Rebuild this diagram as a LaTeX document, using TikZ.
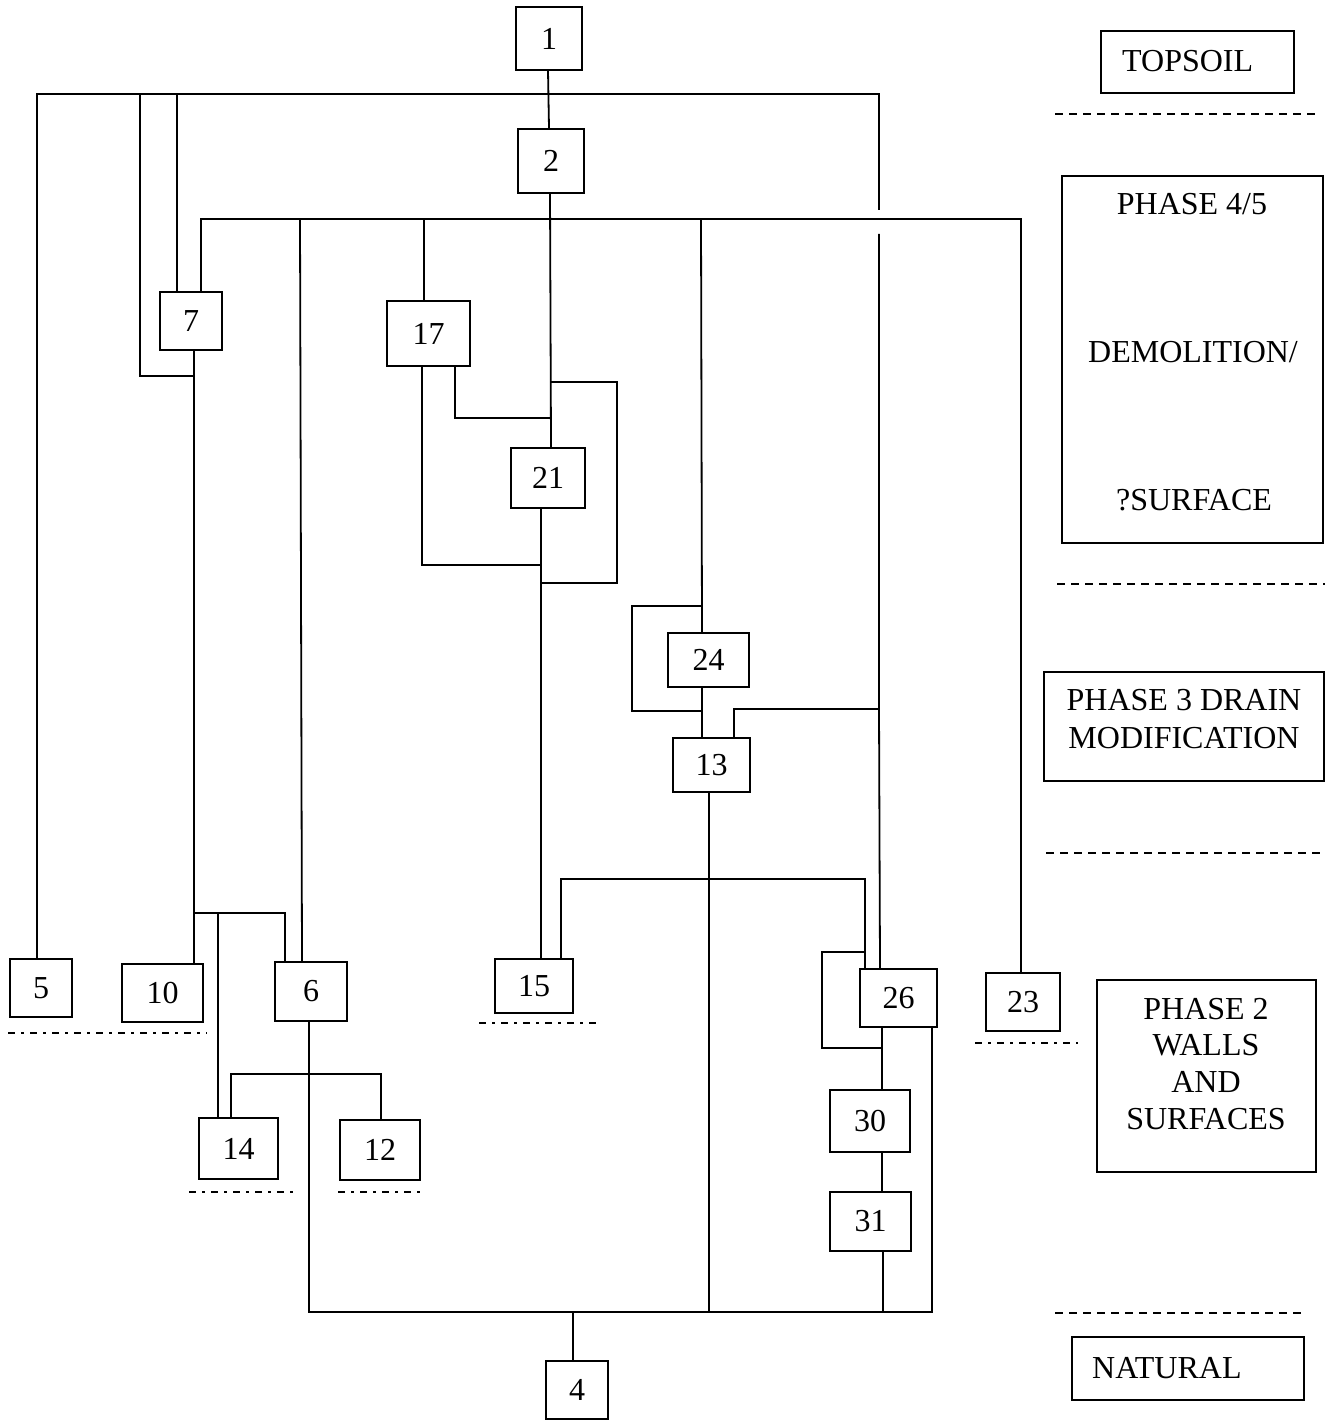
\documentclass[tikz,border=0pt]{standalone}
\usepackage{fontspec}
\setmainfont{Liberation Serif}
\begin{document}
\begin{tikzpicture}[x=1pt,y=-1pt,
  font=\fontsize{32}{38}\selectfont,
  numbox/.style={draw,line width=1.8pt,inner sep=0pt,rectangle},
  labelbox/.style={draw,line width=1.8pt,inner sep=0pt,rectangle},
  conn/.style={line width=1.8pt},
  dashsep/.style={line width=1.5pt,dash pattern=on 8pt off 6pt},
  dashdotsep/.style={line width=1.6pt,dash pattern=on 7pt off 6pt on 3pt off 6pt},
  txt/.style={anchor=base,inner sep=0pt}]
\useasboundingbox (0,0) rectangle (1325,1420);

% numbered boxes
\node[numbox,minimum width=66pt,minimum height=63pt] (n1) at (549,38.5) {1};
\node[numbox,minimum width=66pt,minimum height=64pt] (n2) at (551,161) {2};
\node[numbox,minimum width=62pt,minimum height=58pt] (n7) at (191,321) {7};
\node[numbox,minimum width=83pt,minimum height=65pt] (n17) at (428.5,333.5) {17};
\node[numbox,minimum width=74pt,minimum height=60pt] (n21) at (548,478) {21};
\node[numbox,minimum width=81pt,minimum height=54pt] (n24) at (708.5,660) {24};
\node[numbox,minimum width=77pt,minimum height=54pt] (n13) at (711.5,765) {13};
\node[numbox,minimum width=62pt,minimum height=58pt] (n5) at (41,988) {5};
\node[numbox,minimum width=81pt,minimum height=58pt] (n10) at (162.5,993) {10};
\node[numbox,minimum width=72pt,minimum height=59pt] (n6) at (311,991.5) {6};
\node[numbox,minimum width=78pt,minimum height=54pt] (n15) at (534,986) {15};
\node[numbox,minimum width=77pt,minimum height=58pt] (n26) at (898.5,998) {26};
\node[numbox,minimum width=74pt,minimum height=58pt] (n23) at (1023,1002) {23};
\node[numbox,minimum width=79pt,minimum height=61pt] (n14) at (238.5,1148.5) {14};
\node[numbox,minimum width=80pt,minimum height=60pt] (n12) at (380,1150) {12};
\node[numbox,minimum width=80pt,minimum height=62pt] (n30) at (870,1121) {30};
\node[numbox,minimum width=81pt,minimum height=59pt] (n31) at (870.5,1221.5) {31};
\node[numbox,minimum width=62pt,minimum height=58pt] (n4) at (577,1390) {4};

% phase label boxes
\node[labelbox,minimum width=193pt,minimum height=62pt] (topsoil) at (1197.5,62) {};
\node[txt,anchor=base west] at (1122,72) {TOPSOIL};
\node[labelbox,minimum width=261pt,minimum height=367pt] (ph45) at (1192.5,359.5) {};
\node[txt] at (1192,215) {PHASE 4/5};
\node[txt] at (1193,362) {DEMOLITION/};
\node[txt] at (1194,510) {?SURFACE};
\node[labelbox,minimum width=280pt,minimum height=109pt] (ph3) at (1184,726.5) {};
\node[txt] at (1184,710) {PHASE 3 DRAIN};
\node[txt] at (1184,748) {MODIFICATION};
\node[labelbox,minimum width=219pt,minimum height=192pt] (ph2) at (1206.5,1076) {};
\node[txt] at (1206,1019) {PHASE 2};
\node[txt] at (1206,1055) {WALLS};
\node[txt] at (1206,1092) {AND};
\node[txt] at (1206,1129) {SURFACES};
\node[labelbox,minimum width=232pt,minimum height=63pt] (natural) at (1188,1368.5) {};
\node[txt,anchor=base west] at (1092,1378) {NATURAL};

% junction coordinates
\coordinate (h1L) at (37,94);
\coordinate (h1R) at (879,94);
\coordinate (h2L) at (201,219);
\coordinate (h2R) at (1021,219);
\coordinate (bL) at (309,1312);
\coordinate (bR) at (932,1312);

% connectors
\draw[conn] (548,0 |- n1.south) -- (549,0 |- n2.north);
\draw[conn] (37,0 |- n5.north) -- (h1L) -- (h1R) -- (879,210);
\draw[conn] (879,234) -- (879,709) -- (880,0 |- n26.north);
\draw[conn] (140,94) -- (140,376) -- (194,376);
\draw[conn] (177,94) -- (177,0 |- n7.north);
\draw[conn] (194,0 |- n7.south) -- (194,0 |- n10.north);
\draw[conn] (194,913) -- (285,913) -- (285,0 |- n6.north);
\draw[conn] (218,913) -- (218,0 |- n14.north);
\draw[conn] (201,0 |- n7.north) -- (h2L) -- (h2R) -- (1021,0 |- n23.north);
\draw[conn] (300,219) -- (302,0 |- n6.north);
\draw[conn] (424,219) -- (424,0 |- n17.north);
\draw[conn] (701,219) -- (702,0 |- n24.north);
\draw[conn] (550,0 |- n2.south) -- (551,0 |- n21.north);
\draw[conn] (550,382) -- (617,382) -- (617,583) -- (541,583);
\draw[conn] (455,0 |- n17.south) -- (455,418) -- (551,418);
\draw[conn] (422,0 |- n17.south) -- (422,565) -- (541,565);
\draw[conn] (541,0 |- n21.south) -- (541,0 |- n15.north);
\draw[conn] (702,606) -- (632,606) -- (632,711) -- (702,711);
\draw[conn] (702,0 |- n24.south) -- (702,0 |- n13.north);
\draw[conn] (734,0 |- n13.north) -- (734,709) -- (879,709);
\draw[conn] (709,0 |- n13.south) -- (709,1312);
\draw[conn] (309,0 |- n6.south) -- (bL) -- (bR) -- (932,0 |- n26.south);
\draw[conn] (573,1312) -- (573,0 |- n4.north);
\draw[conn] (231,0 |- n14.north) -- (231,1074) -- (381,1074) -- (381,0 |- n12.north);
\draw[conn] (561,0 |- n15.north) -- (561,879) -- (865,879) -- (865,0 |- n26.north);
\draw[conn] (865,952) -- (822,952) -- (822,1048) -- (882,1048);
\draw[conn] (882,0 |- n26.south) -- (882,0 |- n30.north);
\draw[conn] (882,0 |- n30.south) -- (882,0 |- n31.north);
\draw[conn] (883,0 |- n31.south) -- (883,1312);

% phase separators
\draw[dashsep] (1055,114) -- (1316,114);
\draw[dashsep] (1057,584) -- (1325,584);
\draw[dashsep] (1046,853) -- (1320,853);
\draw[dashsep] (1055,1313) -- (1302,1313);

% dash-dot lines under boxes
\draw[dashdotsep] (8,1033) -- (207,1033);
\draw[dashdotsep] (189,1192) -- (293,1192);
\draw[dashdotsep] (338,1192) -- (420,1192);
\draw[dashdotsep] (479,1023) -- (596,1023);
\draw[dashdotsep] (975,1043) -- (1078,1043);
\end{tikzpicture}
\end{document}
